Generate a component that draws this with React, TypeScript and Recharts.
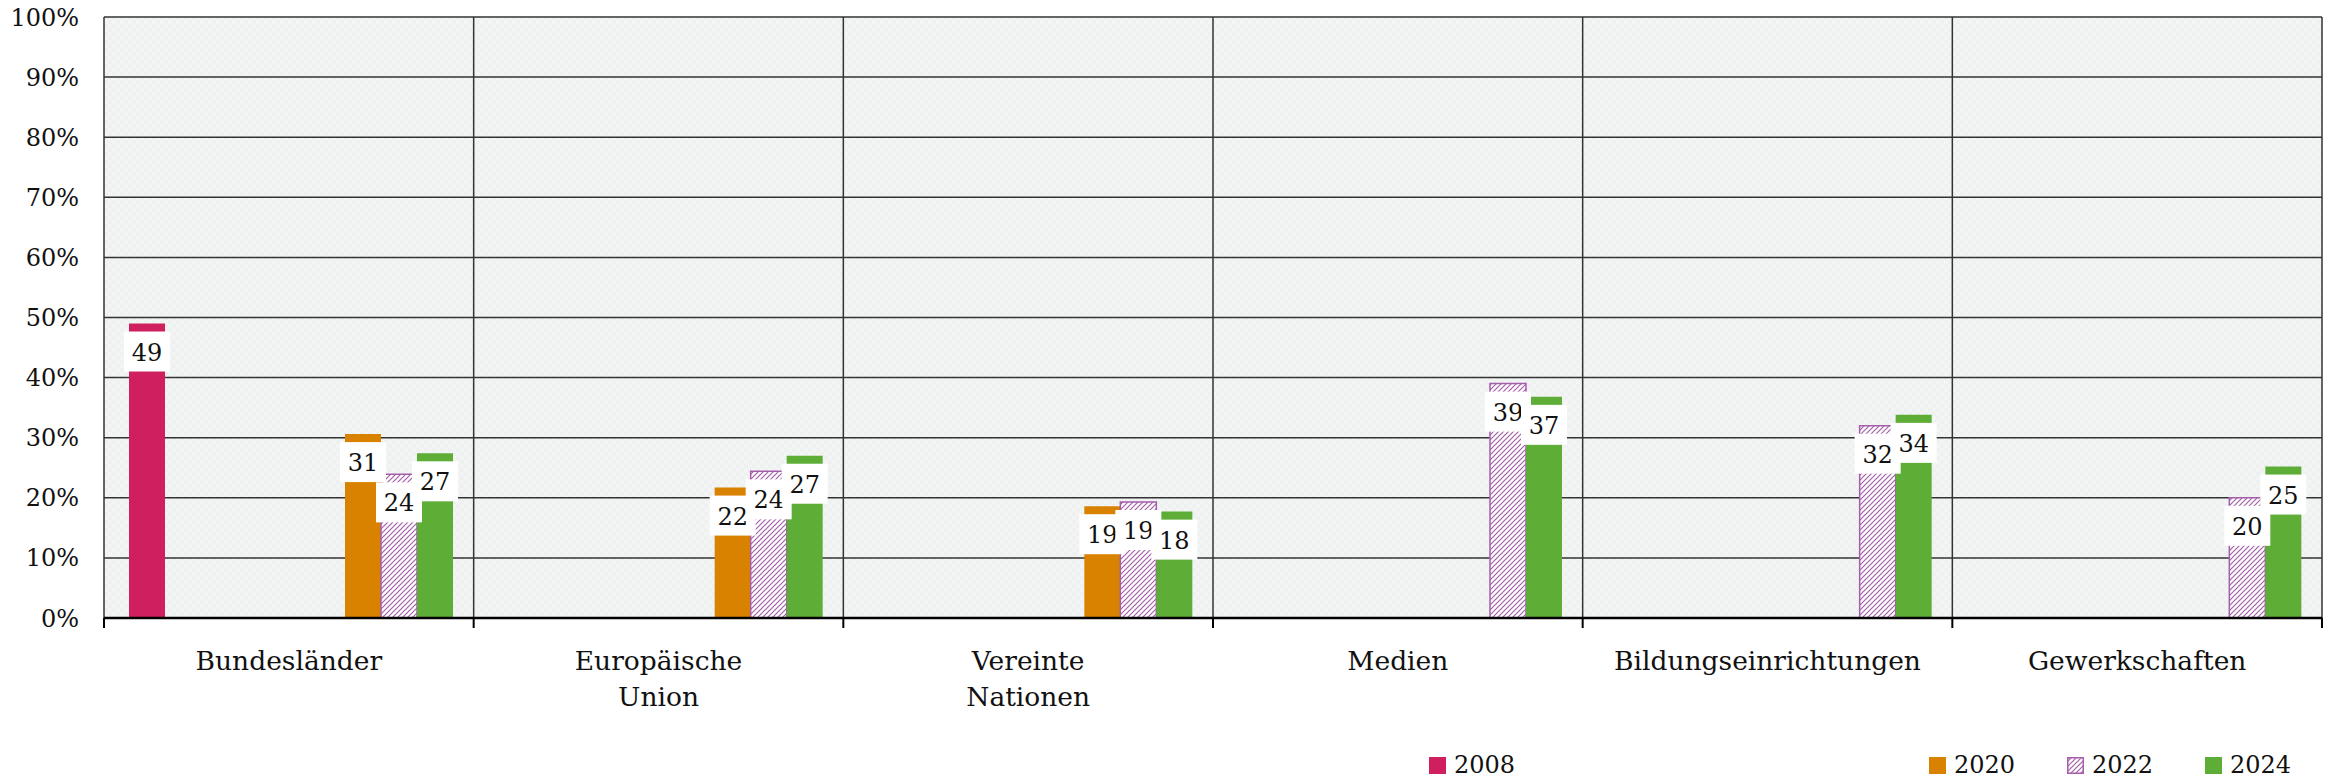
import { BarChart, Bar, XAxis, YAxis, CartesianGrid, Legend, LabelList } from "recharts";

const categories = [
  "Bundesländer",
  "Europäische\nUnion",
  "Vereinte\nNationen",
  "Medien",
  "Bildungseinrichtungen",
  "Gewerkschaften",
];

// survey years, one value per category (percent), null = not asked
const v2008 = [49, null, null, null, null, null];
const v2010 = [null, null, null, null, null, null];
const v2012 = [null, null, null, null, null, null];
const v2014 = [null, null, null, null, null, null];
const v2016 = [null, null, null, null, null, null];
const v2018 = [null, null, null, null, null, null];
const v2020 = [30.6, 21.7, 18.6, null, null, null];
const v2022 = [23.9, 24.4, 19.3, 39.0, 32.0, 20.0];
const v2024 = [27.4, 27.0, 17.7, 36.8, 33.8, 25.2];

const yTicks = [0, 10, 20, 30, 40, 50, 60, 70, 80, 90, 100];

const FONT = '"DejaVu Serif", serif';
const PURPLE = "#A55EAA";

const SERIES = [
  { key: "2008", values: v2008, fill: "#D01F5E", stroke: "none", legend: true },
  { key: "2010", values: v2010, fill: "#999", stroke: "none", legend: false },
  { key: "2012", values: v2012, fill: "#999", stroke: "none", legend: false },
  { key: "2014", values: v2014, fill: "#999", stroke: "none", legend: false },
  { key: "2016", values: v2016, fill: "#999", stroke: "none", legend: false },
  { key: "2018", values: v2018, fill: "#999", stroke: "none", legend: false },
  { key: "2020", values: v2020, fill: "#D98200", stroke: "none", legend: true },
  { key: "2022", values: v2022, fill: "url(#hatch2022)", stroke: PURPLE, legend: true },
  { key: "2024", values: v2024, fill: "#5DAD36", stroke: "none", legend: true },
];

const data = categories.map((name, i) => {
  const row: Record<string, any> = { name };
  SERIES.forEach((s) => (row[s.key] = s.values[i]));
  return row;
});

function ValueLabel(props: any) {
  const { x, y, width, value } = props;
  if (value == null) return null;
  const cx = x + width / 2;
  return (
    <g>
      <rect x={cx - 23} y={y + 8} width={46} height={40} fill="#fff" />
      <text
        x={cx}
        y={y + 29}
        textAnchor="middle"
        dominantBaseline="central"
        fontFamily={FONT}
        fontSize={24}
        fill="#111"
      >
        {Math.round(value)}
      </text>
    </g>
  );
}

function CategoryTick(props: any) {
  const { x, y, payload, index } = props;
  const half = payload.offset ?? (2331 - 104 - 9) / categories.length / 2;
  const lines = String(payload.value).split("\n");
  return (
    <g>
      <line x1={x - half} x2={x - half} y1={y} y2={y + 10} stroke="#000" strokeWidth={2} />
      {index === categories.length - 1 && (
        <line x1={x + half} x2={x + half} y1={y} y2={y + 10} stroke="#000" strokeWidth={2} />
      )}
      <text x={x} y={y + 52} textAnchor="middle" fontFamily={FONT} fontSize={26.5} fill="#111">
        {lines.map((l, i) => (
          <tspan key={i} x={x} dy={i === 0 ? 0 : 36}>
            {l}
          </tspan>
        ))}
      </text>
    </g>
  );
}

function LegendContent() {
  const shown = SERIES.filter((s) => s.legend);
  return (
    <div style={{ height: 52, display: "flex", alignItems: "flex-end", paddingLeft: 1429 }}>
      {shown.map((s, i) => (
        <div
          key={s.key}
          style={{
            width: i === 0 ? 500 : 138,
            flexShrink: 0,
            display: "flex",
            alignItems: "center",
            gap: 8,
            height: 30,
          }}
        >
          <svg width={17} height={17}>
            <rect
              x={0.75}
              y={0.75}
              width={15.5}
              height={15.5}
              fill={s.fill}
              stroke={s.stroke === "none" ? s.fill : s.stroke}
              strokeWidth={1.5}
            />
          </svg>
          <span style={{ fontFamily: FONT, fontSize: 24, color: "#111", lineHeight: "30px" }}>{s.key}</span>
        </div>
      ))}
    </div>
  );
}

export default function App() {
  return (
    <div style={{ position: "absolute", left: 0, top: 0, width: 2331, height: 780, background: "#fff", overflow: "hidden" }}>
      <BarChart
        width={2331}
        height={780}
        data={data}
        margin={{ top: 17, right: 9, bottom: 0, left: 0 }}
        barCategoryGap={25}
        barGap={0}
      >
        <defs>
          <pattern id="bgPat" patternUnits="userSpaceOnUse" width={8} height={8}>
            <rect width={8} height={8} fill="#f3f4f4" />
            <rect width={4} height={4} fill="#eff0f0" />
            <rect x={4} y={4} width={4} height={4} fill="#eff0f0" />
          </pattern>
          <pattern id="hatch2022" patternUnits="userSpaceOnUse" width={5} height={5}>
            <rect width={5} height={5} fill="#fff" />
            <path d="M-1,1 l2,-2 M0,5 l5,-5 M4,6 l2,-2" stroke={PURPLE} strokeWidth={1.2} />
          </pattern>
        </defs>
        <CartesianGrid
          fill="url(#bgPat)"
          fillOpacity={1}
          stroke="#333"
          strokeWidth={1.5}
          verticalCoordinatesGenerator={({ offset }: any) =>
            Array.from({ length: categories.length + 1 }, (_, i) => offset.left + (i * offset.width) / categories.length)
          }
        />
        <XAxis
          dataKey="name"
          interval={0}
          height={110}
          tickSize={0}
          tickMargin={0}
          tickLine={false}
          axisLine={{ stroke: "#000", strokeWidth: 2.5 }}
          tick={<CategoryTick />}
        />
        <YAxis
          domain={[0, 100]}
          ticks={yTicks}
          width={104}
          tickSize={0}
          tickMargin={25}
          axisLine={false}
          tickLine={false}
          tickFormatter={(v: number) => `${v}%`}
          tick={{ fontFamily: FONT, fontSize: 24, fill: "#111" }}
        />
        <Legend verticalAlign="bottom" height={52} content={() => <LegendContent />} />
        {SERIES.map((s) => (
          <Bar
            key={s.key}
            dataKey={s.key}
            name={s.key}
            fill={s.fill}
            stroke={s.stroke}
            strokeWidth={s.stroke === "none" ? 0 : 1.5}
            isAnimationActive={false}
            legendType={s.legend ? "square" : "none"}
          >
            <LabelList dataKey={s.key} content={<ValueLabel />} />
          </Bar>
        ))}
      </BarChart>
    </div>
  );
}
